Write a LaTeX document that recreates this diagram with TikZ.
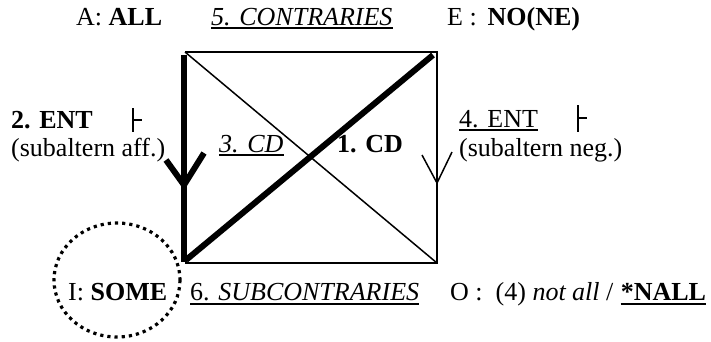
\documentclass[tikz,border=0pt]{standalone}
\usepackage{fontspec}
\setmainfont{Liberation Serif}
\begin{document}
\begin{tikzpicture}[x=1pt,y=-1pt,
  lbl/.style={inner sep=0pt, anchor=base west, font=\fontsize{26}{30}\selectfont},
  thinline/.style={line width=1.5pt},
  heavy/.style={line width=6pt},
  ulline/.style={line width=1.6pt},
  turnstile/.style={line width=2.6pt},
  dotring/.style={line width=3.2pt, dash pattern=on 3.2pt off 4pt}]
\useasboundingbox (0,0) rectangle (711,341);
% square corners
\coordinate (A) at (185,52);
\coordinate (E) at (437,52);
\coordinate (I) at (185,263);
\coordinate (O) at (437,263);
\draw[thinline] (A) -- (E) -- (O) -- (I);
\draw[thinline] (A) -- (O);
% thick entailment A -> I
\coordinate (Atop) at (184,55);
\coordinate (Ibot) at (184,262);
\draw[heavy] (Atop) -- (Ibot);
\coordinate (ltip) at (184,185);
\coordinate (la1) at (166,160);
\coordinate (la2) at (204,153);
\draw[heavy, line join=round] (la1) -- (ltip) -- (la2);
% thick contradiction I -- E
\coordinate (Ithk) at (186,260);
\coordinate (Ethk) at (433,55);
\draw[heavy] (Ithk) -- (Ethk);
% thin arrow on right side
\coordinate (rtip) at (437,183);
\coordinate (ra1) at (422,155);
\coordinate (ra2) at (452,152);
\draw[thinline] (ra1) -- (rtip) -- (ra2);
% turnstiles
\coordinate (t1a) at (133,108); \coordinate (t1b) at (133,132);
\coordinate (t1c) at (133,120); \coordinate (t1d) at (142,120);
\draw[turnstile] (t1a) -- (t1b) (t1c) -- (t1d);
\coordinate (t2a) at (578,105); \coordinate (t2b) at (578,132);
\coordinate (t2c) at (578,118); \coordinate (t2d) at (587,118);
\draw[turnstile] (t2a) -- (t2b) (t2c) -- (t2d);
% top row
\node[lbl] (tA) at (76,25) {A: \textbf{ALL}};
\node[lbl] (tC) at (211,25) {\textit{5. CONTRARIES}};
\draw[ulline] ([yshift=-3pt]tC.base west) -- ([yshift=-3pt]tC.base east);
\node[lbl] (tE) at (447,25) {E :\, \textbf{NO(NE)}};
% middle
\node[lbl] (ent2) at (11,128) {\textbf{2. ENT}};
\node[lbl] (sub1) at (11,156) {(subaltern aff.)};
\node[lbl] (cd3) at (219,152) {\textit{3. CD}};
\draw[ulline] ([yshift=-3pt]cd3.base west) -- ([yshift=-3pt]cd3.base east);
\node[lbl] (cd1) at (337,152) {\textbf{1. CD}};
\node[lbl] (ent4) at (459,127) {4. ENT};
\draw[ulline] ([yshift=-3pt]ent4.base west) -- ([yshift=-3pt]ent4.base east);
\node[lbl] (sub2) at (459,156) {(subaltern neg.)};
% bottom row
\coordinate (ringc) at (117,280);
\draw[dotring] (ringc) ellipse [x radius=63, y radius=57];
\node[lbl] (tI) at (68,300) {I: \textbf{SOME}};
\node[lbl] (tS) at (190,300) {6. \textit{SUBCONTRARIES}};
\draw[ulline] ([yshift=-4pt]tS.base west) -- ([yshift=-4pt]tS.base east);
\node[lbl] (tO) at (450,300) {O :\ \ (4) \textit{not all} /};
\node[lbl] (tN) at ([xshift=7pt]tO.base east) {\textbf{*NALL}};
\draw[ulline] ([yshift=-4pt]tN.base west) -- ([yshift=-4pt]tN.base east);
\end{tikzpicture}
\end{document}
